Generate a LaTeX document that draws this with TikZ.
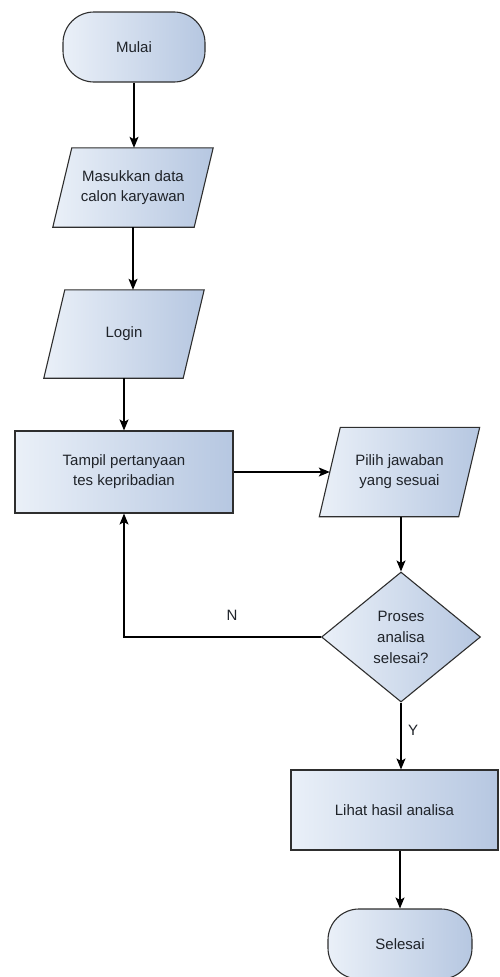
\documentclass[tikz,border=0pt]{standalone}
\usepackage{fontspec}
\setmainfont{Liberation Sans}
\usetikzlibrary{shapes.geometric,arrows.meta,backgrounds}
\definecolor{fillL}{HTML}{EAF0F8}
\definecolor{fillR}{HTML}{B6C7E1}
\definecolor{edge}{HTML}{2E2E2E}
\definecolor{ink}{HTML}{1F2329}
\begin{document}
\begin{tikzpicture}[x=1pt,y=-1pt,
  shapebase/.style={draw=edge, line width=1.1pt, left color=fillL, right color=fillR,
    text=ink, font=\fontsize{15}{20}\selectfont, align=center, inner sep=0pt},
  terminal/.style={shapebase, rectangle, rounded corners=31pt,
    minimum width=142pt, minimum height=70pt},
  procbox/.style={shapebase, rectangle, minimum height=82pt},
  % text holder of a data box; its parallelogram is drawn on the background layer
  iobox/.style={rectangle, text=ink, font=\fontsize{15}{20}\selectfont, align=center,
    inner sep=0pt, minimum width=160pt},
  ioshape/.style={draw=edge, line width=1.1pt, left color=fillL, right color=fillR},
  decision/.style={shapebase, diamond, minimum width=159pt, minimum height=130pt,
    font=\fontsize{15}{21}\selectfont},
  flow/.style={draw=black, line width=1.1pt, -{Stealth[length=11pt,width=9pt,inset=2.5pt]}},
  lbl/.style={font=\fontsize{15}{18}\selectfont, text=ink}]
  \useasboundingbox (0,0) rectangle (499,977);

  % flowchart nodes
  \node[terminal] (mulai) at (134,47) {Mulai};
  \node[iobox, minimum height=79pt] (masuk) at (133,187.5) {Masukkan data\\calon karyawan};
  \node[iobox, minimum height=88pt] (login) at (124,334) {Login};
  \node[procbox, minimum width=218pt] (tampil) at (124,472) {Tampil pertanyaan\\tes kepribadian};
  \node[iobox, minimum height=89pt] (pilih) at (399.5,472) {Pilih jawaban\\yang sesuai};
  \node[decision] (dia) at (401,637) {Proses\\analisa\\selesai?};
  \node[procbox, minimum width=207pt, minimum height=80pt] (lihat) at (394.5,810) {Lihat hasil analisa};
  \node[terminal, minimum width=144pt] (selesai) at (400,944) {Selesai};

  % parallelograms behind the data boxes
  \begin{pgfonlayer}{background}
    \path[ioshape] ([xshift=19pt]masuk.north west) -- (masuk.north east)
      -- ([xshift=-19pt]masuk.south east) -- (masuk.south west) -- cycle;
    \path[ioshape] ([xshift=21pt]login.north west) -- (login.north east)
      -- ([xshift=-21pt]login.south east) -- (login.south west) -- cycle;
    \path[ioshape] ([xshift=21pt]pilih.north west) -- (pilih.north east)
      -- ([xshift=-21pt]pilih.south east) -- (pilih.south west) -- cycle;
  \end{pgfonlayer}

  % branch labels
  \node[lbl] (nlbl) at (232,615) {N};
  \node[lbl] (ylbl) at (413,730) {Y};

  % connectors
  \draw[flow] (mulai.south) -- (mulai.south |- masuk.north);
  \draw[flow] (masuk.south) -- (masuk.south |- login.north);
  \draw[flow] (login.south) -- (tampil.north);
  \draw[flow] (tampil.east) -- ([xshift=10.5pt]pilih.west);
  \draw[flow] (dia.north |- pilih.south) -- (dia.north);
  \draw[flow] (dia.west) -| (tampil.south);
  \draw[flow] (dia.south) -- (dia.south |- lihat.north);
  \draw[flow] (selesai.north |- lihat.south) -- (selesai.north);
\end{tikzpicture}
\end{document}
